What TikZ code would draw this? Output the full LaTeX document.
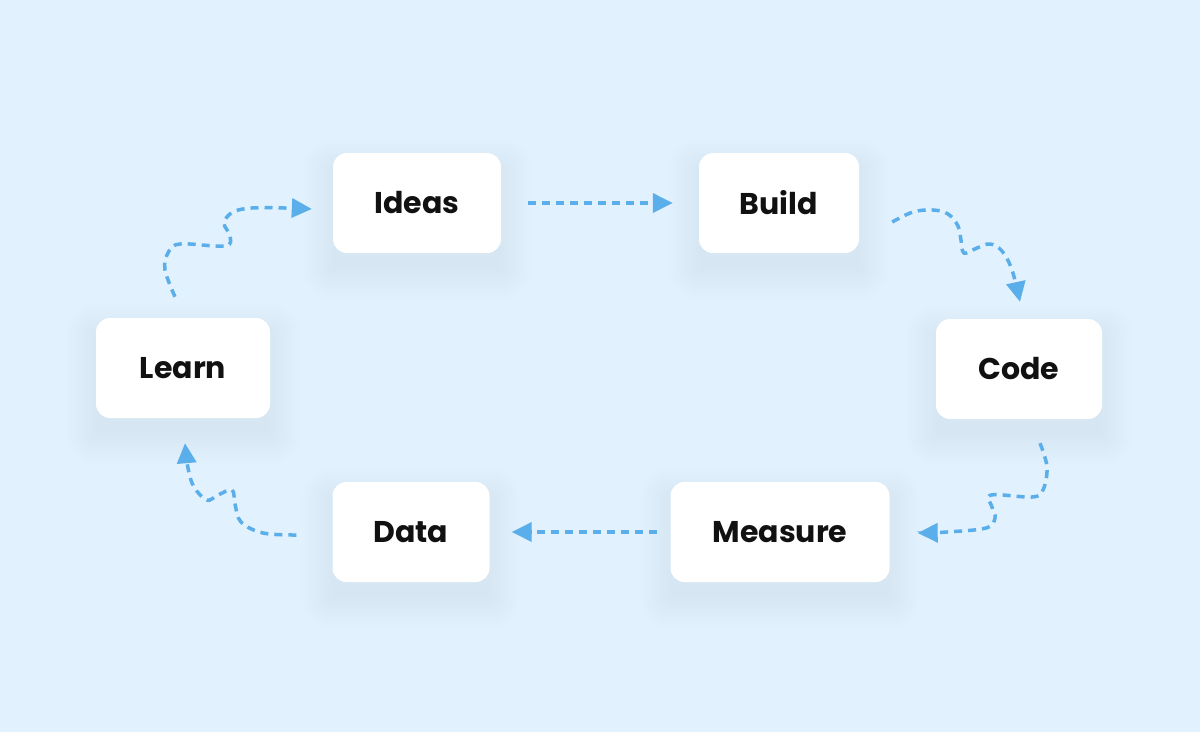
\documentclass[tikz,border=0pt]{standalone}
\usepackage{fontspec}
\setmainfont{Poppins}
\usetikzlibrary{arrows.meta,backgrounds}
\definecolor{bgblue}{HTML}{E1F1FD}
\definecolor{arrowblue}{HTML}{5AAEEA}
\definecolor{shadowblue}{HTML}{6FA8DC}
\definecolor{textblack}{HTML}{111111}

\begin{document}
\begin{tikzpicture}[x=1pt, y=-1pt,
    main/.style = {fill=white, rounded corners=14pt, minimum height=100pt,
        text=textblack, font=\fontsize{30}{36}\selectfont\bfseries},
    flow/.style = {draw=arrowblue, line width=3.5pt, dash pattern=on 8pt off 6pt,
        -{Triangle[length=20pt, width=19pt]}}]
    \useasboundingbox (0,0) rectangle (1200,732);
    \node[main, minimum width=168pt] (I) at (417,203) {Ideas};
    \node[main, minimum width=160pt] (B) at (779,203) {Build};
    \node[main, minimum width=166pt] (C) at (1019,369) {Code};
    \node[main, minimum width=219pt] (M) at (780,532) {Measure};
    \node[main, minimum width=157pt] (D) at (411,532) {Data};
    \node[main, minimum width=174pt] (L) at (183,368) {Learn};
    % soft shadows under the boxes
    \begin{scope}[on background layer]
        \fill[bgblue] (0,0) rectangle (1200,732);
        \foreach \n in {I,B,C,M,D,L}
            \foreach \r [evaluate=\r as \rc using 14+\r] in {0,3,...,30}
                \fill[shadowblue, opacity=0.009, rounded corners=\rc pt]
                    ([shift={(-\r,16-\r)}]\n.north west) rectangle ([shift={(\r,16+\r)}]\n.south east);
    \end{scope}
    % straight links
    \draw[flow] ([xshift=27pt]I.east) -- ([xshift=-26pt]B.west);
    \draw[flow] ([xshift=-13pt]M.west) -- ([xshift=22pt]D.east);
    % wavy links
    \draw[flow] plot[smooth, tension=0.6] coordinates {([shift={(-8,-21)}]L.north)
        (165,270) (168,253) (180,244) (225,246) (230,236) (224,223) (233,212) (252,208) (285,208)
        ([shift={(-21,6)}]I.west)};
    \draw[flow] plot[smooth, tension=0.6] coordinates {([shift={(33,19)}]B.east)
        (913,212) (933,210) (948,214) (958,226) (961,240) (964,253) (977,248) (990,244)
        (1002,251) (1012,270) ([shift={(1,-17)}]C.north)};
    \draw[flow] plot[smooth, tension=0.6] coordinates {([shift={(21,24)}]C.south)
        (1047,467) (1043,490) (1032,497) (991,495) (992,507) (995,518) (986,528) (947,532)
        ([shift={(28,1)}]M.east)};
    \draw[flow] plot[smooth, tension=0.6] coordinates {([shift={(-36,3)}]D.west)
        (263,533) (241,522) (235,504) (232,490) (218,495) (207,500) (194,487) (188,468)
        ([shift={(2,25)}]L.south)};
\end{tikzpicture}
\end{document}
